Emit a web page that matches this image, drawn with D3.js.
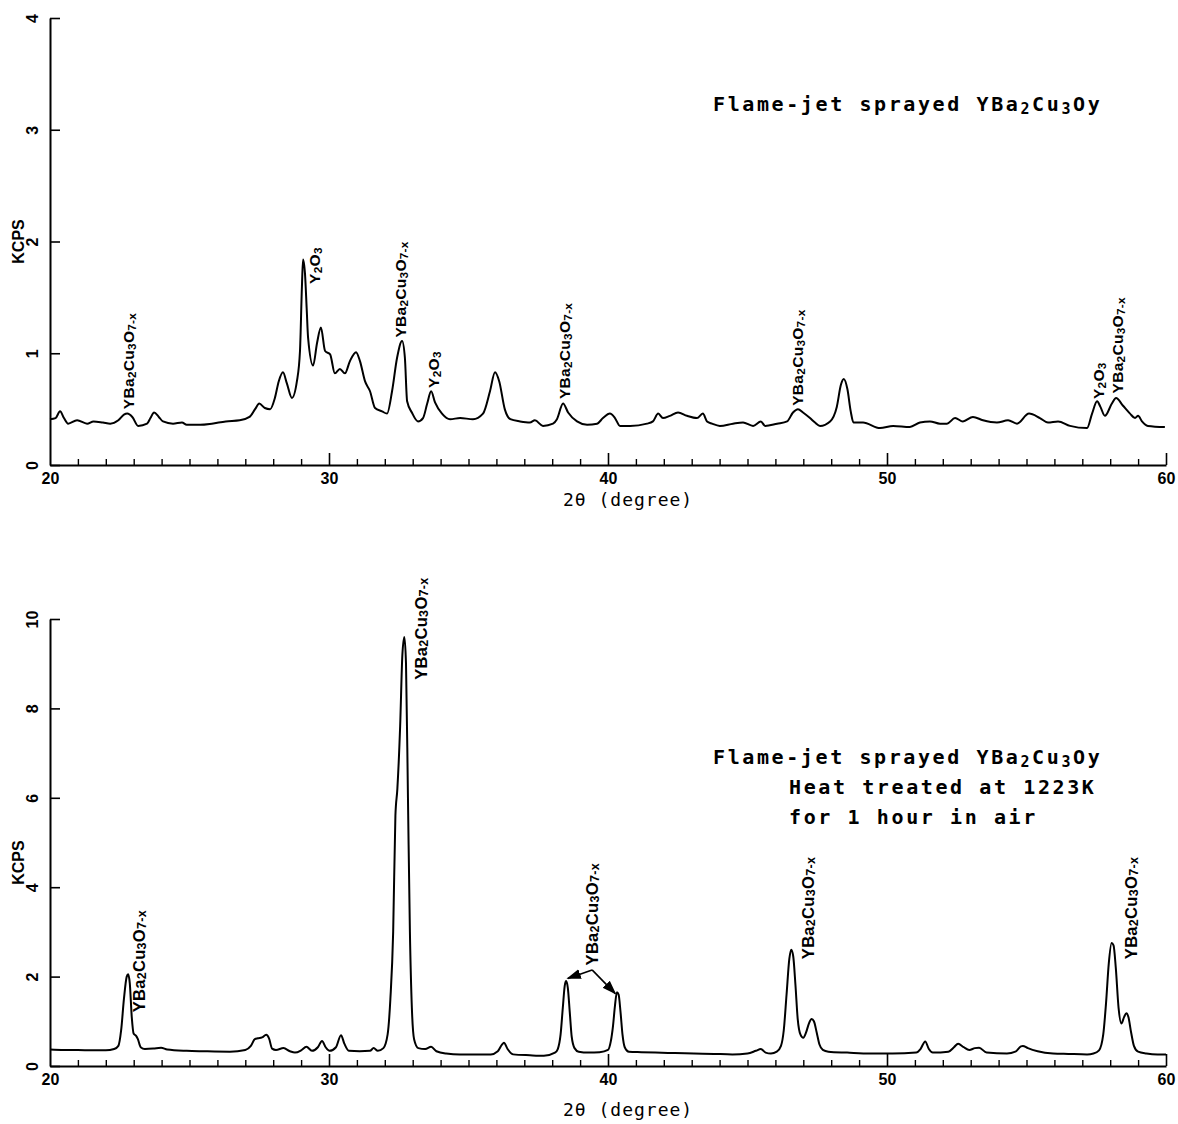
<!DOCTYPE html>
<html>
<head>
<meta charset="utf-8">
<script src="https://cdn.jsdelivr.net/npm/d3@7"></script>
<style>
  body { margin: 0; background: #fff; }
  svg { display: block; }
</style>
</head>
<body>
<div id="chart"></div>
<script>
// 2θ (degree), KCPS  -- as sprayed
const asSprayed = [
  [20.0,0.41],[20.2,0.42],[20.36,0.48],[20.5,0.42],[20.65,0.37],[20.97,0.40],[21.33,0.37],[21.56,0.39],
  [21.9,0.38],[22.16,0.37],[22.45,0.40],[22.65,0.45],[22.77,0.46],[22.95,0.43],[23.16,0.35],[23.48,0.37],
  [23.6,0.42],[23.73,0.47],[23.9,0.43],[24.05,0.39],[24.41,0.37],[24.73,0.38],[24.9,0.36],[25.38,0.36],
  [25.8,0.37],[26.3,0.39],[26.8,0.40],[27.15,0.43],[27.35,0.50],[27.5,0.55],[27.7,0.51],[27.89,0.50],
  [28.06,0.60],[28.2,0.75],[28.35,0.83],[28.49,0.73],[28.67,0.60],[28.85,0.75],[28.96,1.02],[29.03,1.6],
  [29.07,1.84],[29.14,1.71],[29.2,1.4],[29.25,1.14],[29.43,0.89],[29.57,1.09],[29.71,1.23],[29.86,1.02],
  [30.04,0.99],[30.21,0.82],[30.39,0.86],[30.57,0.82],[30.75,0.93],[30.97,1.01],[31.11,0.93],[31.29,0.75],
  [31.47,0.66],[31.65,0.51],[31.9,0.48],[32.08,0.46],[32.26,0.66],[32.44,0.96],[32.62,1.11],[32.72,0.96],
  [32.8,0.57],[32.97,0.47],[33.19,0.39],[33.37,0.42],[33.52,0.55],[33.66,0.66],[33.8,0.56],[34.05,0.46],
  [34.34,0.41],[34.7,0.42],[35.16,0.41],[35.52,0.46],[35.77,0.66],[35.95,0.83],[36.1,0.75],[36.3,0.50],
  [36.5,0.41],[36.85,0.39],[37.2,0.38],[37.38,0.40],[37.67,0.35],[38.03,0.37],[38.17,0.41],[38.39,0.55],
  [38.57,0.47],[38.89,0.39],[39.25,0.36],[39.61,0.37],[39.82,0.42],[40.07,0.46],[40.25,0.42],[40.43,0.35],
  [40.79,0.35],[41.4,0.37],[41.61,0.39],[41.8,0.46],[41.97,0.42],[42.22,0.44],[42.51,0.47],[42.83,0.44],
  [43.19,0.42],[43.4,0.46],[43.55,0.39],[43.73,0.37],[44.01,0.35],[44.48,0.37],[44.84,0.38],[45.2,0.35],
  [45.48,0.39],[45.63,0.35],[46.06,0.37],[46.42,0.39],[46.63,0.47],[46.81,0.50],[46.99,0.47],[47.24,0.42],
  [47.42,0.38],[47.6,0.35],[47.96,0.39],[48.2,0.52],[48.35,0.72],[48.45,0.77],[48.58,0.68],[48.7,0.48],
  [48.8,0.38],[49.14,0.38],[49.75,0.33],[50.22,0.35],[50.82,0.34],[51.18,0.38],[51.54,0.39],[51.9,0.37],
  [52.15,0.37],[52.44,0.42],[52.72,0.39],[53.08,0.43],[53.44,0.40],[53.94,0.38],[54.34,0.40],[54.66,0.37],
  [55.09,0.46],[55.48,0.42],[55.77,0.38],[56.13,0.39],[56.56,0.35],[57.17,0.33],[57.35,0.46],[57.53,0.57],
  [57.65,0.52],[57.81,0.44],[58.06,0.55],[58.21,0.60],[58.46,0.53],[58.71,0.46],[58.89,0.42],[59.0,0.44],
  [59.14,0.39],[59.35,0.35],[59.96,0.34]
];

// 2θ (degree), KCPS  -- heat treated 1223K
const heatTreated = [
  [20.0,0.37],[20.5,0.36],[21.0,0.36],[21.5,0.35],[22.0,0.35],[22.3,0.38],[22.45,0.45],[22.55,0.8],
  [22.65,1.5],[22.75,2.0],[22.8,2.05],[22.86,1.85],[22.93,1.1],[23.0,0.72],[23.08,0.68],[23.15,0.6],
  [23.25,0.42],[23.4,0.38],[23.7,0.39],[23.98,0.41],[24.2,0.37],[24.9,0.34],[25.5,0.33],[26.45,0.32],
  [27.0,0.36],[27.2,0.45],[27.34,0.6],[27.45,0.62],[27.6,0.64],[27.75,0.7],[27.85,0.62],[27.96,0.39],
  [28.1,0.36],[28.37,0.40],[28.6,0.33],[28.78,0.30],[29.0,0.35],[29.19,0.43],[29.39,0.34],[29.6,0.42],
  [29.75,0.56],[29.88,0.42],[30.02,0.34],[30.25,0.42],[30.43,0.69],[30.55,0.5],[30.71,0.34],[31.1,0.33],
  [31.47,0.34],[31.6,0.40],[31.75,0.34],[31.95,0.4],[32.1,0.7],[32.2,1.5],[32.3,3.0],[32.38,5.6],
  [32.45,6.2],[32.55,7.6],[32.63,9.2],[32.7,9.6],[32.76,9.0],[32.83,6.0],[32.9,3.0],[32.97,1.3],
  [33.05,0.6],[33.2,0.4],[33.45,0.38],[33.66,0.43],[33.85,0.33],[34.2,0.28],[34.7,0.26],[35.3,0.26],
  [35.8,0.26],[36.05,0.33],[36.2,0.48],[36.27,0.52],[36.4,0.38],[36.6,0.26],[37.2,0.24],[37.7,0.23],
  [38.1,0.30],[38.2,0.38],[38.3,0.7],[38.38,1.3],[38.45,1.8],[38.5,1.9],[38.56,1.75],[38.63,1.2],
  [38.7,0.65],[38.8,0.4],[38.95,0.32],[39.3,0.3],[39.7,0.31],[40.0,0.36],[40.1,0.55],[40.18,0.9],
  [40.25,1.35],[40.32,1.65],[40.38,1.6],[40.45,1.2],[40.52,0.7],[40.6,0.42],[40.75,0.32],[41.2,0.31],
  [41.7,0.30],[42.4,0.29],[43.08,0.28],[43.8,0.27],[44.46,0.26],[45.0,0.28],[45.3,0.34],[45.48,0.38],
  [45.65,0.3],[45.84,0.28],[46.05,0.32],[46.2,0.45],[46.3,0.8],[46.4,1.6],[46.5,2.4],[46.57,2.6],
  [46.64,2.45],[46.72,1.8],[46.8,1.05],[46.9,0.7],[47.0,0.63],[47.1,0.75],[47.2,0.95],[47.3,1.05],
  [47.38,1.0],[47.48,0.75],[47.58,0.48],[47.7,0.36],[47.9,0.32],[48.57,0.30],[49.4,0.28],[50.2,0.28],
  [51.05,0.30],[51.2,0.38],[51.37,0.55],[51.5,0.38],[51.64,0.30],[52.2,0.32],[52.4,0.42],[52.55,0.5],
  [52.75,0.42],[52.95,0.36],[53.15,0.40],[53.3,0.41],[53.57,0.3],[54.3,0.28],[54.6,0.32],[54.8,0.44],
  [54.87,0.45],[55.05,0.40],[55.4,0.33],[55.95,0.28],[56.5,0.27],[57.17,0.26],[57.4,0.28],[57.6,0.35],
  [57.75,0.7],[57.85,1.4],[57.95,2.3],[58.05,2.75],[58.12,2.7],[58.2,2.2],[58.3,1.3],[58.4,0.95],
  [58.5,1.1],[58.58,1.18],[58.65,1.1],[58.75,0.75],[58.85,0.45],[59.0,0.32],[59.3,0.28],[59.7,0.26],
  [60.0,0.26]
];

const xMajorTicks = [20, 30, 40, 50, 60];
const xMinorTicks = d3.range(21, 60).filter(d => d % 10 !== 0);
const topYTicks = [0, 1, 2, 3, 4];
const bottomYTicks = [0, 2, 4, 6, 8, 10];

// formula pieces: [text, isSubscript]
const YBCO = [["YBa", false], ["2", true], ["Cu", false], ["3", true], ["O", false], ["7-x", true]];
const Y2O3 = [["Y", false], ["2", true], ["O", false], ["3", true]];

// peak labels: formula, 2θ, KCPS at the foot of the label
const topLabels = [
  [YBCO, 22.8, 0.50], [Y2O3, 29.45, 1.62], [YBCO, 32.54, 1.14], [Y2O3, 33.73, 0.69],
  [YBCO, 38.42, 0.59], [YBCO, 46.77, 0.53], [Y2O3, 57.56, 0.59], [YBCO, 58.25, 0.64]
];
const bottomLabels = [
  [YBCO, 23.19, 1.2], [YBCO, 33.3, 8.64], [YBCO, 39.43, 2.25], [YBCO, 47.17, 2.39], [YBCO, 58.74, 2.39]
];
// arrows from the shared label to the 38.5 / 40.4 peaks
const arrowFrom = [39.43, 2.15];
const arrowTo = [[38.56, 1.96], [40.26, 1.62]];

const titleLine = [["Flame-jet sprayed YBa", false], ["2", true], ["Cu", false], ["3", true], ["Oy", false]];
const heatLines = [[["Heat treated at 1223K", false]], [["for 1 hour in air", false]]];

const W = 1178, H = 1124;
const svg = d3.select("#chart").append("svg").attr("width", W).attr("height", H);

svg.append("defs").append("marker")
  .attr("id", "arr").attr("viewBox", "0 0 10 10").attr("refX", 9).attr("refY", 5)
  .attr("markerWidth", 9).attr("markerHeight", 9).attr("orient", "auto")
  .append("path").attr("d", "M0,1.5 L10,5 L0,8.5 Z").attr("fill", "#000");

const x = d3.scaleLinear().domain([20, 60]).range([50, 1166]);
const yTop = d3.scaleLinear().domain([0, 4]).range([465, 18]);
const yBot = d3.scaleLinear().domain([0, 10]).range([1066, 619]);

const sansBold = "'Liberation Sans', Arial, sans-serif";
const mono = "'DejaVu Sans Mono', 'Liberation Mono', monospace";

function addFormula(sel, pieces, size, subSize, shift) {
  pieces.forEach(([t, sub], i) => {
    const prevSub = i > 0 && pieces[i - 1][1];
    sel.append("tspan")
      .attr("font-size", sub ? subSize : size)
      .attr("dy", sub ? shift : (prevSub ? -shift : 0))
      .text(t);
  });
}

function drawPanel(y, yTicks, data, labels, kcpsAt, xLabelY, labelSize) {
  const y0 = y(0);
  const g = svg.append("g");

  // minor x ticks
  g.append("g").attr("transform", `translate(0,${y0})`)
    .call(d3.axisBottom(x).tickValues(xMinorTicks).tickSize(-6).tickSizeOuter(0).tickFormat(""))
    .call(a => a.select(".domain").remove())
    .call(a => a.selectAll("line").attr("stroke-width", 1.4));

  // major x ticks + labels
  g.append("g").attr("transform", `translate(0,${y0})`)
    .call(d3.axisBottom(x).tickValues(xMajorTicks).tickSize(-12).tickSizeOuter(0).tickPadding(8).tickFormat(d3.format("d")))
    .call(a => a.select(".domain").attr("stroke-width", 2))
    .call(a => a.selectAll("line").attr("stroke-width", 1.6))
    .call(a => a.selectAll("text").attr("font-family", sansBold).attr("font-weight", "bold")
      .attr("font-size", 16).attr("fill", "#000"))
    .call(a => a.selectAll(".tick").filter(d => d === 20).select("line").remove());

  // y axis, rotated tick labels
  g.append("g").attr("transform", "translate(50,0)")
    .call(d3.axisLeft(y).tickValues(yTicks).tickSize(-10).tickSizeOuter(0).tickFormat(d3.format("d")))
    .call(a => a.select(".domain").attr("stroke-width", 2))
    .call(a => a.selectAll("line").attr("stroke-width", 1.6))
    .call(a => a.selectAll("text")
      .attr("x", null).attr("dy", null)
      .attr("transform", "translate(-18,0) rotate(-90)")
      .attr("text-anchor", "middle").attr("dominant-baseline", "central")
      .attr("font-family", sansBold).attr("font-weight", "bold").attr("font-size", 16).attr("fill", "#000"));

  // KCPS
  g.append("text")
    .attr("transform", `translate(18,${y(kcpsAt)}) rotate(-90)`)
    .attr("text-anchor", "middle").attr("dominant-baseline", "central")
    .attr("font-family", sansBold).attr("font-weight", "bold").attr("font-size", 16)
    .text("KCPS");

  // x label
  g.append("text")
    .attr("x", 563).attr("y", xLabelY)
    .attr("font-family", mono).attr("font-size", 18).attr("letter-spacing", 1)
    .text("2θ (degree)");

  // curve
  g.append("path").datum(data)
    .attr("fill", "none").attr("stroke", "#000").attr("stroke-width", 2)
    .attr("stroke-linejoin", "round")
    .attr("d", d3.line().x(d => x(d[0])).y(d => y(d[1])).curve(d3.curveMonotoneX));

  // peak labels
  labels.forEach(([pieces, t, v]) => {
    const txt = g.append("text")
      .attr("transform", `translate(${x(t)},${y(v)}) rotate(-90)`)
      .attr("dominant-baseline", "central")
      .attr("font-family", sansBold).attr("font-weight", "bold").attr("letter-spacing", 0.3);
    addFormula(txt, pieces, labelSize, labelSize * 0.76, 3);
  });
  return g;
}

drawPanel(yTop, topYTicks, asSprayed, topLabels, 2.0, 506, 15.5);
const gb = drawPanel(yBot, bottomYTicks, heatTreated, bottomLabels, 4.55, 1116, 16.5);

// arrows in bottom panel
arrowTo.forEach(p => {
  gb.append("line")
    .attr("x1", x(arrowFrom[0])).attr("y1", yBot(arrowFrom[1]))
    .attr("x2", x(p[0])).attr("y2", yBot(p[1]))
    .attr("stroke", "#000").attr("stroke-width", 1.6).attr("marker-end", "url(#arr)");
});

// titles
function title(lines, xs, ys) {
  lines.forEach((pieces, i) => {
    const t = svg.append("text").attr("x", xs[i]).attr("y", ys[i])
      .attr("font-family", mono).attr("font-weight", "bold").attr("font-size", 20)
      .attr("letter-spacing", 2.6);
    addFormula(t, pieces, 20, 15, 3);
  });
}
title([titleLine], [713], [111]);
title([titleLine].concat(heatLines), [713, 789, 789], [764, 794, 824]);
</script>
</body>
</html>
